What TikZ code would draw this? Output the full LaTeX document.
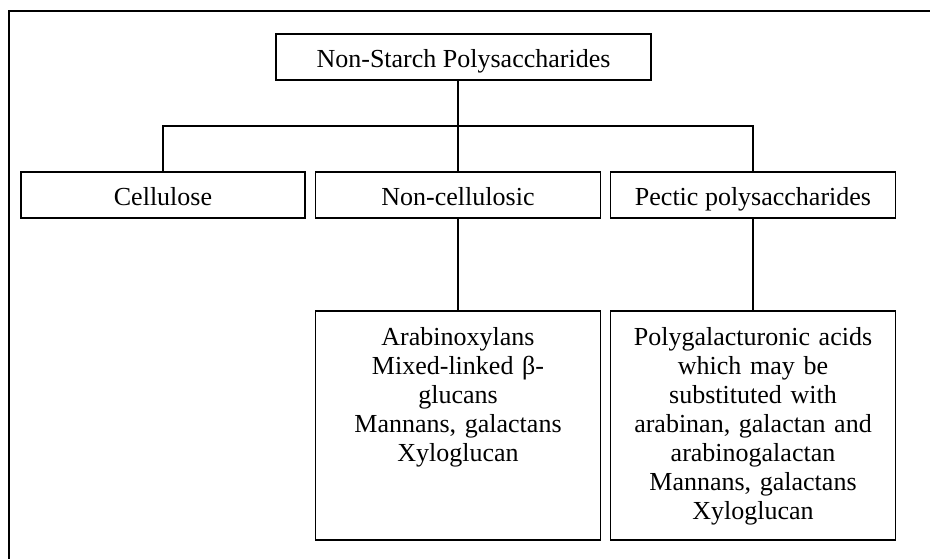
\documentclass[tikz,border=0pt]{standalone}
\usepackage{fontspec}
\setmainfont{Liberation Serif}
\usetikzlibrary{positioning,calc}

\tikzset{
  nspbox/.style={draw, line width=1.6pt, outer sep=0pt, inner sep=0pt,
    minimum height=46pt, text height=22pt, text depth=1pt,
    font=\fontsize{26}{29}\selectfont},
  nsplist/.style={nspbox, minimum width=285pt, minimum height=229pt,
    text width=275pt, align=center, inner ysep=16pt,
    text height=18pt, text depth=179pt},
  nsplink/.style={draw, line width=1.3pt}
}

\begin{document}
\begin{tikzpicture}[x=1pt, y=-1pt, line cap=rect]
  \useasboundingbox (0,0) rectangle (930,559);

  % open frame round the chart (cut at the right and bottom)
  \draw[line width=1.6pt] (9,559) |- (930,11);

  % top of the tree
  \node[nspbox, minimum width=375pt] (nsp) at (463.5,57) {Non-Starch Polysaccharides};

  % second row
  \node[nspbox, minimum width=284pt] (cell)    at (163,195) {Cellulose};
  \node[nspbox, minimum width=285pt] (noncell) at (458,195) {Non-cellulosic};
  \node[nspbox, minimum width=285pt] (pectic)  at (753,195) {Pectic polysaccharides};

  % lists below
  \node[nsplist, below=93pt of noncell] (noncelllist)
    {Arabinoxylans\\ Mixed-linked β-\\ glucans\\ Mannans, galactans\\ Xyloglucan};
  \node[nsplist, below=93pt of pectic] (pecticlist)
    {Polygalacturonic acids\\ which may be\\ substituted with\\ arabinan, galactan and\\
     arabinogalactan\\ Mannans, galactans\\ Xyloglucan};

  % connectors
  \coordinate (bar) at ($(cell.north)+(0,-46)$);
  \draw[nsplink] (nsp.south -| noncell.north) -- (noncell.north);
  \draw[nsplink] (cell.north) -- (bar) -| (pectic.north);
  \draw[nsplink] (noncell.south) -- (noncelllist.north);
  \draw[nsplink] (pectic.south) -- (pecticlist.north);
\end{tikzpicture}
\end{document}
